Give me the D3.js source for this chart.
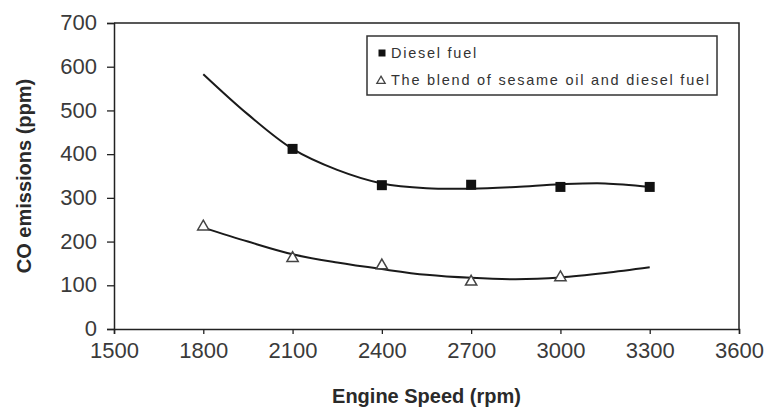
<!DOCTYPE html>
<html><head><meta charset="utf-8">
<script src="https://cdn.jsdelivr.net/npm/d3@7"></script>
<style>body{margin:0;background:#fff}svg{display:block}</style>
</head><body><svg id="c" width="769" height="410"></svg>
<script>
// ---- data ----
const xTicks = [1500, 1800, 2100, 2400, 2700, 3000, 3300, 3600];
const yTicks = [0, 100, 200, 300, 400, 500, 600, 700];

const dieselSpeed = [2100, 2400, 2700, 3000, 3300];
const dieselCO    = [412, 329, 330, 325, 325];

const blendSpeed = [1800, 2100, 2400, 2700, 3000];
const blendCO    = [234, 162, 145, 108, 118];

// trend curves (as drawn in the reference)
const dieselTrendSpeed = [1800, 1950, 2100, 2250, 2400, 2550, 2700, 2850, 3000, 3150, 3300];
const dieselTrendCO    = [583, 491, 412, 364, 333, 322, 321, 325, 331, 333, 325];
const blendTrendSpeed  = [1800, 1950, 2100, 2250, 2400, 2550, 2700, 2850, 3000, 3150, 3300];
const blendTrendCO     = [232, 200, 171, 152, 137, 124, 117, 114, 118, 128, 141];

const legendLabels = ["Diesel fuel", "The blend of sesame oil and diesel fuel"];

// ---- layout ----
const svg = d3.select("#c");
const m = {l:114, r:739, t:23, b:329};
const x = d3.scaleLinear().domain([1500, 3600]).range([m.l, m.r]);
const y = d3.scaleLinear().domain([0, 700]).range([m.b, m.t]);
const axisCol = "#222";

// frame (top and right)
svg.append("path")
  .attr("d", `M${m.l},${m.t}H${m.r}V${m.b}`)
  .attr("fill","none").attr("stroke",axisCol).attr("stroke-width",1.5);

const gx = svg.append("g").attr("transform",`translate(0,${m.b})`)
  .call(d3.axisBottom(x).tickValues(xTicks).tickSize(5).tickPadding(8).tickFormat(d3.format("d")));
const gy = svg.append("g").attr("transform",`translate(${m.l},0)`)
  .call(d3.axisLeft(y).tickValues(yTicks).tickSize(7).tickPadding(10).tickFormat(d3.format("d")));
[gx, gy].forEach(g => {
  g.select(".domain").attr("stroke",axisCol).attr("stroke-width",1.5);
  g.selectAll(".tick line").attr("stroke",axisCol).attr("stroke-width",1.3);
  g.selectAll(".tick text").attr("fill","#3a3a3a")
    .style("font-family","'Liberation Sans', Arial, sans-serif").style("font-size","22px");
});
gy.selectAll(".tick text").attr("dy","0.3em");

// axis titles
svg.append("text").attr("x",(m.l+m.r)/2).attr("y",403).attr("text-anchor","middle")
  .style("font-family","'Liberation Sans', Arial, sans-serif").style("font-size","20px")
  .style("font-weight","bold").attr("fill","#2a2a2a").text("Engine Speed (rpm)");
svg.append("text").attr("transform",`translate(31,${(m.t+m.b)/2}) rotate(-90)`)
  .attr("text-anchor","middle")
  .style("font-family","'Liberation Sans', Arial, sans-serif").style("font-size","20px")
  .style("font-weight","bold").attr("fill","#2a2a2a").text("CO emissions (ppm)");

// trend lines
const line = d3.line().x(d=>x(d[0])).y(d=>y(d[1])).curve(d3.curveCatmullRom.alpha(0.5));
svg.append("path").datum(d3.zip(dieselTrendSpeed, dieselTrendCO)).attr("d", line)
  .attr("fill","none").attr("stroke","#1a1a1a").attr("stroke-width",2);
svg.append("path").datum(d3.zip(blendTrendSpeed, blendTrendCO)).attr("d", line)
  .attr("fill","none").attr("stroke","#1a1a1a").attr("stroke-width",2);

// markers
const sq = d3.symbol().type(d3.symbolSquare).size(100);
const tri = d3.symbol().type(d3.symbolTriangle).size(55);
svg.append("g").selectAll("path").data(d3.zip(dieselSpeed, dieselCO)).join("path")
  .attr("d", sq).attr("transform", d=>`translate(${x(d[0])},${y(d[1])})`).attr("fill","#111");
svg.append("g").selectAll("path").data(d3.zip(blendSpeed, blendCO)).join("path")
  .attr("d", tri).attr("transform", d=>`translate(${x(d[0])},${y(d[1])})`)
  .attr("fill","#fff").attr("stroke","#444").attr("stroke-width",1.5);

// legend
const lg = svg.append("g");
lg.append("rect").attr("x",367).attr("y",36).attr("width",350).attr("height",59)
  .attr("fill","#fff").attr("stroke","#333").attr("stroke-width",1.5);
const rows = [53, 80];
lg.append("path").attr("d", d3.symbol().type(d3.symbolSquare).size(49))
  .attr("transform",`translate(382,${rows[0]})`).attr("fill","#111");
lg.append("path").attr("d", d3.symbol().type(d3.symbolTriangle).size(30))
  .attr("transform",`translate(381,${rows[1]+1})`).attr("fill","#fff").attr("stroke","#444").attr("stroke-width",1.3);
lg.selectAll("text").data(legendLabels).join("text")
  .attr("x",391).attr("y",(d,i)=>rows[i]+5)
  .style("font-family","'Liberation Sans', Arial, sans-serif").style("font-size","14.5px")
  .style("letter-spacing","1.75px")
  .attr("fill","#333").text(d=>d);
</script></body></html>
